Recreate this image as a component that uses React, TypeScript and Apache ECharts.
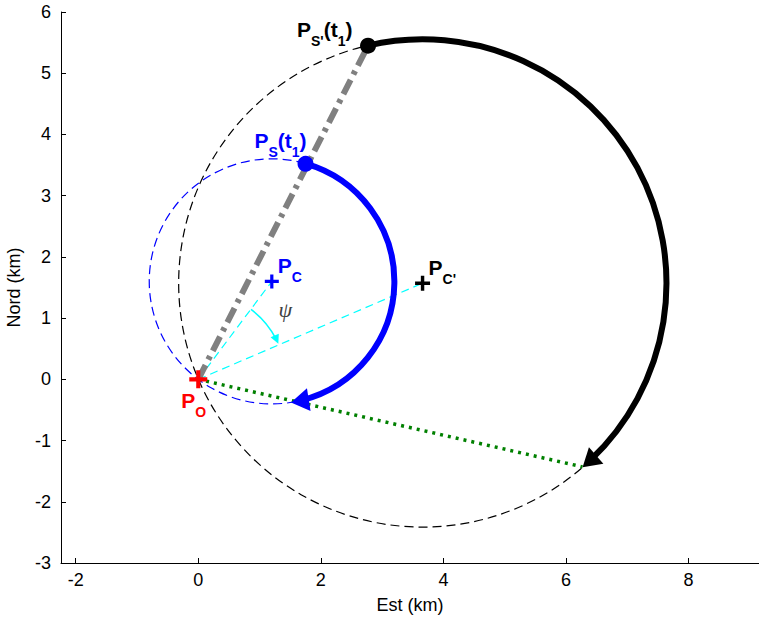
import React, { useEffect, useRef } from 'react';
import * as echarts from 'echarts';

// Axis limits and tick labels
const xLimits = [-2.24, 9.15];
const yLimits = [-3, 6];
const xTickValues = [-2, 0, 2, 4, 6, 8];
const yTickValues = [-3, -2, -1, 0, 1, 2, 3, 4, 5, 6];

// Points (km)
const pointO = [0, 0];
const pointC = [1.2, 1.6];
const pointC2 = [3.66, 1.57];
const pointS = [1.75, 3.52];
const pointS2 = [2.77, 5.45];
const greenEnd = [6.27, -1.43];

// Circle radii (km)
const radiusC = 2.0;
const radiusC2 = 3.98;

// Trajectories: [cx, cy, r, startDeg, endDeg] (clockwise)
const blueTrajectory = [pointC[0], pointC[1], radiusC, 74, -81];
const blackTrajectory = [pointC2[0], pointC2[1], radiusC2, 103, -49];
const psiArc = [0, 0, 1.43, 53, 24];

const FONT = "'Liberation Sans', Arial, Helvetica, sans-serif";
const D = Math.PI / 180;

function arcRenderer(color: string, width: number, arrowLen: number, arrowWid: number) {
  return (params: any, api: any) => {
    const c = api.coord([api.value(0), api.value(1)]);
    const rp = Math.abs(api.size([api.value(2), 0])[0]);
    const a0 = api.value(3) * D;
    const a1 = api.value(4) * D;
    const tip = [c[0] + rp * Math.cos(a1), c[1] - rp * Math.sin(a1)];
    const t = [Math.sin(a1), Math.cos(a1)];
    const n = [Math.cos(a1), -Math.sin(a1)];
    const base = [tip[0] - arrowLen * t[0], tip[1] - arrowLen * t[1]];
    const aLineEnd = a1 + (arrowLen * 0.6) / rp;
    return {
      type: 'group',
      children: [
        {
          type: 'arc',
          shape: { cx: c[0], cy: c[1], r: rp, startAngle: -a0, endAngle: -aLineEnd, clockwise: true },
          style: { stroke: color, lineWidth: width, fill: null },
          silent: true,
        },
        {
          type: 'polygon',
          shape: {
            points: [
              tip,
              [base[0] + (n[0] * arrowWid) / 2, base[1] + (n[1] * arrowWid) / 2],
              [base[0] - (n[0] * arrowWid) / 2, base[1] - (n[1] * arrowWid) / 2],
            ],
          },
          style: { fill: color },
          silent: true,
        },
      ],
    };
  };
}

const circleColors = ['#0000ff', '#000000'];

const labelSpecs = [
  { text: "{m|P}{s|S'}{m|(t}{s|1}{m|)}", color: '#000000', dx: -71, dy: -27 },
  { text: '{m|P}{s|S}{m|(t}{s|1}{m|)}', color: '#0000ff', dx: -51, dy: -34 },
  { text: '{m|P}{s|C}', color: '#0000ff', dx: 6, dy: -26 },
  { text: "{m|P}{s|C'}", color: '#000000', dx: 6, dy: -26 },
  { text: '{m|P}{s|O}', color: '#ff0000', dx: -17, dy: 11 },
];
const labelAnchors = [pointS2, pointS, pointC, pointC2, pointO];

const PLUS = 'path://M-1.6,-7H1.6V-1.6H7V1.6H1.6V7H-1.6V1.6H-7V-1.6H-1.6Z';

export default function App() {
  const ref = useRef<HTMLDivElement>(null);
  useEffect(() => {
    if (!ref.current) return;
    const chart = echarts.init(ref.current, undefined, { renderer: 'svg' });
    const fmt = (v: number) => (Number.isInteger(v) ? String(v) : '');
    chart.setOption({
      animation: false,
      backgroundColor: '#ffffff',
      textStyle: { fontFamily: FONT },
      grid: { left: 61, right: 0, top: 12, bottom: 60, containLabel: false, outerBoundsMode: 'none' },
      xAxis: {
        type: 'value',
        min: xLimits[0],
        max: xLimits[1],
        axisLine: { show: true, onZero: false, lineStyle: { color: '#000', width: 1 } },
        axisTick: { show: true, inside: true, length: 5, lineStyle: { color: '#000' }, customValues: xTickValues },
        axisLabel: { color: '#000', fontSize: 18, margin: 8, fontFamily: FONT, formatter: fmt, customValues: xTickValues },
        splitLine: { show: false },
        name: 'Est (km)',
        nameLocation: 'middle',
        nameGap: 33,
        nameTextStyle: { color: '#000', fontSize: 18, fontFamily: FONT },
      },
      yAxis: {
        type: 'value',
        min: yLimits[0],
        max: yLimits[1],
        interval: 1,
        axisLine: { show: true, onZero: false, lineStyle: { color: '#000', width: 1 } },
        axisTick: { show: true, inside: true, length: 5, lineStyle: { color: '#000' }, customValues: yTickValues },
        axisLabel: { color: '#000', fontSize: 18, margin: 10, fontFamily: FONT, formatter: fmt, customValues: yTickValues },
        splitLine: { show: false },
        name: 'Nord (km)',
        nameLocation: 'middle',
        nameGap: 38,
        nameTextStyle: { color: '#000', fontSize: 18, fontFamily: FONT },
      },
      series: [
        {
          type: 'custom',
          name: 'circles',
          data: [
            [pointC[0], pointC[1], radiusC],
            [pointC2[0], pointC2[1], radiusC2],
          ],
          renderItem: (params: any, api: any) => {
            const c = api.coord([api.value(0), api.value(1)]);
            const rp = Math.abs(api.size([api.value(2), 0])[0]);
            return {
              type: 'circle',
              shape: { cx: c[0], cy: c[1], r: rp },
              style: { fill: null, stroke: circleColors[params.dataIndex], lineWidth: 1.2, lineDash: [9, 5] },
              silent: true,
            };
          },
          z: 1,
        },
        {
          type: 'line',
          data: [pointO, pointC],
          symbol: 'none',
          lineStyle: { color: '#00ffff', width: 1.2, type: [8, 5] },
          z: 2,
        },
        {
          type: 'line',
          data: [pointO, pointC2],
          symbol: 'none',
          lineStyle: { color: '#00ffff', width: 1.2, type: [8, 5] },
          z: 2,
        },
        {
          type: 'custom',
          data: [psiArc],
          renderItem: arcRenderer('#00ffff', 1.5, 9, 9),
          z: 2,
        },
        {
          type: 'line',
          data: [pointO, pointS2],
          symbol: 'none',
          lineStyle: { color: '#808080', width: 6, type: [16, 6, 4, 6], cap: 'butt' },
          z: 3,
        },
        {
          type: 'line',
          data: [pointO, greenEnd],
          symbol: 'none',
          lineStyle: { color: '#008000', width: 3.5, type: [3, 5], cap: 'butt' },
          z: 3,
        },
        {
          type: 'custom',
          data: [blueTrajectory],
          renderItem: arcRenderer('#0000ff', 6, 18, 23),
          z: 4,
        },
        {
          type: 'custom',
          data: [blackTrajectory],
          renderItem: arcRenderer('#000000', 6, 18, 22),
          z: 4,
        },
        {
          type: 'scatter',
          symbol: 'circle',
          data: [
            { value: pointS, itemStyle: { color: '#0000ff', opacity: 1 } },
            { value: pointS2, itemStyle: { color: '#000000', opacity: 1 } },
          ],
          itemStyle: { opacity: 1 },
          symbolSize: 16,
          z: 5,
        },
        {
          type: 'scatter',
          symbol: PLUS,
          data: [
            { value: pointO, itemStyle: { color: '#ff0000', opacity: 1 }, symbolSize: 18 },
            { value: pointC, itemStyle: { color: '#0000ff', opacity: 1 }, symbolSize: 14 },
            { value: pointC2, itemStyle: { color: '#000000', opacity: 1 }, symbolSize: 15 },
          ],
          itemStyle: { opacity: 1 },
          z: 5,
        },
        {
          type: 'custom',
          data: labelAnchors,
          renderItem: (params: any, api: any) => {
            const spec = labelSpecs[params.dataIndex];
            const p = api.coord([api.value(0), api.value(1)]);
            return {
              type: 'text',
              x: p[0] + spec.dx,
              y: p[1] + spec.dy,
              style: {
                text: spec.text,
                fill: spec.color,
                align: 'left',
                verticalAlign: 'top',
                rich: {
                  m: { fontSize: 21, fontWeight: 'bold', fontFamily: FONT, fill: spec.color, lineHeight: 22, verticalAlign: 'top' },
                  s: { fontSize: 14, fontWeight: 'bold', fontFamily: FONT, fill: spec.color, lineHeight: 14, verticalAlign: 'top', padding: [15, 0, 0, 0] },
                },
              },
              silent: true,
            };
          },
          z: 6,
        },
        {
          type: 'custom',
          data: [pointO],
          renderItem: (params: any, api: any) => {
            const p = api.coord([api.value(0), api.value(1)]);
            return {
              type: 'text',
              x: p[0] + 87,
              y: p[1] - 70,
              style: {
                text: 'ψ',
                fill: '#404040',
                align: 'center',
                verticalAlign: 'middle',
                font: "italic 22px 'Liberation Serif', 'DejaVu Serif', serif",
              },
              silent: true,
            };
          },
          z: 6,
        },
      ],
    });
    return () => chart.dispose();
  }, []);
  return <div ref={ref} style={{ position: 'fixed', left: 0, top: 0, width: 759, height: 623, background: '#fff' }} />;
}
